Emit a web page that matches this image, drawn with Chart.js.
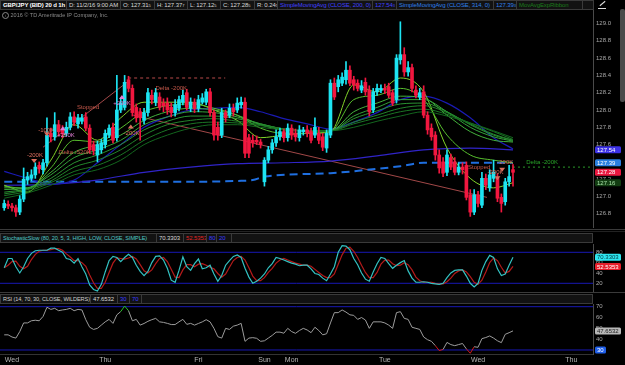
<!DOCTYPE html>
<html><head><meta charset="utf-8">
<script src="https://cdn.jsdelivr.net/npm/chart.js@4.4.1/dist/chart.umd.min.js"></script>
<style>
html,body{margin:0;padding:0;background:#000;}
body{width:625px;height:365px;position:relative;overflow:hidden;font-family:"Liberation Sans",Arial,sans-serif;}
.c{position:absolute;height:10px;line-height:8px;font-size:6px;letter-spacing:-0.1px;white-space:nowrap;overflow:hidden;border:1px solid #3a3a3a;background:#121212;box-sizing:border-box;padding-left:2px;color:#d8d8d8;}
.s{font-size:4px;}
canvas{position:absolute;left:0;}
.sep{position:absolute;left:0;width:625px;height:1px;background:#3a3a3a;}
</style></head><body>
<canvas id="pc" width="625" height="218" style="top:10px"></canvas>
<canvas id="sc" width="625" height="48" style="top:244px"></canvas>
<canvas id="rc" width="625" height="61" style="top:304px"></canvas>

<div class="c" style="left:0;top:0;width:67px;font-weight:bold;color:#fff">GBP/JPY (BID) 20 d 1h</div>
<div class="c" style="left:66px;top:0;width:55px">D: 11/2/16 9:00 AM</div>
<div class="c" style="left:120px;top:0;width:35px">O: 127.31<span class="s">5</span></div>
<div class="c" style="left:154px;top:0;width:34px">H: 127.37<span class="s">7</span></div>
<div class="c" style="left:187px;top:0;width:34px">L: 127.12<span class="s">5</span></div>
<div class="c" style="left:220px;top:0;width:35px">C: 127.28<span class="s">5</span></div>
<div class="c" style="left:254px;top:0;width:24px">R: 0.24<span class="s">5</span></div>
<div class="c" style="left:277px;top:0;width:96px;color:#4141ff">SimpleMovingAvg (CLOSE, 200, 0)</div>
<div class="c" style="left:372px;top:0;width:25px;color:#4141ff">127.54<span class="s">3</span></div>
<div class="c" style="left:396px;top:0;width:98px;color:#2f80ea">SimpleMovingAvg (CLOSE, 314, 0)</div>
<div class="c" style="left:493px;top:0;width:24px;color:#2f80ea">127.39<span class="s">3</span></div>
<div class="c" style="left:516px;top:0;width:67px;color:#1b7d1b">MovAvgExpRibbon</div>
<div class="c" style="left:582px;top:0;width:12px"></div>
<div style="position:absolute;left:598px;top:1px;width:8px;height:7px;border-bottom:1px solid #ddd;"></div>
<div style="position:absolute;left:599px;top:3px;width:7px;height:1px;background:#ddd;transform:rotate(-40deg)"></div>
<div style="position:absolute;left:620px;top:9px;width:5px;height:93px;background:#4a4a4a;border-radius:2px"></div>

<div style="position:absolute;left:2px;top:12px;font-size:5.5px;color:#8a8a8a;white-space:nowrap;line-height:7px">
<span style="display:inline-block;width:5px;height:5px;border:1px solid #8a8a8a;border-radius:50%;font-size:4px;line-height:5px;text-align:center;vertical-align:middle">i</span> 2016 © TD Ameritrade IP Company, Inc.</div>

<div class="sep" style="top:229px"></div>
<div class="sep" style="top:231px;background:#222"></div>
<div class="c" style="left:0;top:233px;width:157px;color:#4fc8c8;font-size:5.6px">StochasticSlow (80, 20, 5, 3, HIGH, LOW, CLOSE, SIMPLE)</div>
<div class="c" style="left:156px;top:233px;width:28px">70.3303</div>
<div class="c" style="left:183px;top:233px;width:24px;color:#e02525">52.5353</div>
<div class="c" style="left:206px;top:233px;width:11px;color:#3a3aff">80</div>
<div class="c" style="left:216px;top:233px;width:16px;color:#3a3aff">20</div>
<div class="c" style="left:231px;top:233px;width:362px"></div>

<div class="sep" style="top:292px"></div>
<div class="c" style="left:0;top:294px;width:91px;color:#cfcfcf;font-size:5.6px">RSI (14, 70, 30, CLOSE, WILDERS)</div>
<div class="c" style="left:90px;top:294px;width:28px">47.6532</div>
<div class="c" style="left:117px;top:294px;width:13px;color:#3a3aff">30</div>
<div class="c" style="left:129px;top:294px;width:13px;color:#3a3aff">70</div>
<div class="c" style="left:141px;top:294px;width:452px"></div>

<script>
const FONT = '"Liberation Sans", Arial, sans-serif';
const xMin = -1.09, xMax = 151.6;
const dayTicks = [2, 26, 50, 67, 74, 98, 122, 146];
const dayLabels = ['Wed','Thu','Fri','Sun','Mon','Tue','Wed','Thu'];
const priceTicks = [126.8,127,127.2,127.4,127.6,127.8,128,128.2,128.4,128.6,128.8,129];
const stochTicks = [20,40,60,80];
const rsiTicks = [30,40,50,60,70];

// hourly OHLC, GBP/JPY
const openP = [126.87,126.91,126.89,126.87,126.82,126.97,127.19,127.21,127.25,127.36,
 127.31,127.39,127.73,127.69,127.83,127.77,127.73,127.80,127.92,127.84,
 127.87,127.92,127.79,127.60,127.48,127.54,127.60,127.71,127.80,127.68,
 128.00,128.03,128.35,128.25,128.03,127.98,127.88,127.97,128.17,128.09,
 128.15,128.08,128.08,128.03,127.97,128.02,128.09,128.20,128.02,128.09,
 128.02,128.09,128.09,128.21,127.97,127.80,127.71,127.97,127.94,128.02,
 128.00,128.06,128.09,127.68,127.65,127.65,127.63,127.17,127.42,127.54,
 127.62,127.69,127.75,127.68,127.79,127.73,127.68,127.75,127.77,127.75,
 127.71,127.73,127.69,127.56,127.71,128.31,128.27,128.31,128.35,128.46,
 128.35,128.31,128.23,128.32,128.23,128.00,128.21,128.23,128.25,128.27,
 128.20,128.12,128.58,128.64,128.44,128.49,128.23,128.15,128.21,127.94,
 127.79,127.71,127.48,127.40,127.28,127.45,127.40,127.28,127.34,127.36,
 127.02,126.82,127.02,126.90,127.21,127.10,127.21,127.21,126.99,126.94,127.17,127.31];
const highP = [126.96,126.95,126.92,126.90,127.01,127.33,127.28,127.31,127.39,127.40,
 127.43,127.91,127.79,127.97,127.88,127.82,127.86,127.97,127.98,127.95,
 127.95,127.97,127.83,127.64,127.64,127.66,127.77,127.83,127.85,128.40,
 128.14,128.40,128.39,128.29,128.07,128.02,128.02,128.25,128.23,128.25,
 128.20,128.13,128.14,128.08,128.12,128.16,128.23,128.24,128.14,128.13,
 128.17,128.19,128.24,128.25,128.00,127.86,128.02,128.00,128.07,128.07,
 128.14,128.15,128.14,127.72,127.71,127.70,127.66,127.45,127.58,127.66,
 127.77,127.79,127.78,127.84,127.83,127.78,127.82,127.80,127.82,127.79,
 127.91,127.80,127.73,127.77,128.35,128.37,128.40,128.43,128.56,128.51,
 128.39,128.35,128.34,128.37,128.28,128.25,128.30,128.29,128.30,128.31,
 128.23,128.64,129.02,128.72,128.56,128.53,128.28,128.25,128.28,127.98,
 127.84,127.75,127.54,127.45,127.54,127.49,127.45,127.39,127.39,127.40,
 127.08,127.08,127.06,127.28,127.26,127.31,127.42,127.26,127.03,127.21,127.36,127.37];
const lowP = [126.84,126.86,126.83,126.77,126.79,126.94,127.14,127.18,127.21,127.27,
 127.26,127.35,127.63,127.65,127.70,127.68,127.70,127.77,127.82,127.79,
 127.84,127.76,127.50,127.48,127.40,127.50,127.56,127.68,127.62,127.64,
 127.97,128.00,128.21,127.93,127.86,127.65,127.84,127.93,128.07,128.05,
 128.00,127.98,127.95,127.92,127.93,127.99,128.06,128.00,127.98,127.97,
 127.98,128.07,128.06,127.93,127.65,127.65,127.68,127.86,127.91,127.93,
 127.97,128.02,127.45,127.45,127.57,127.60,127.56,127.12,127.39,127.50,
 127.58,127.65,127.63,127.64,127.66,127.64,127.64,127.71,127.69,127.62,
 127.68,127.61,127.53,127.51,127.68,128.12,128.21,128.28,128.30,128.28,
 128.23,128.22,128.20,128.17,127.93,127.97,128.17,128.20,128.19,128.14,
 128.05,128.08,128.53,128.39,128.39,128.21,128.14,128.12,127.91,127.72,
 127.65,127.42,127.27,127.23,127.24,127.31,127.25,127.25,127.26,126.96,
 126.77,126.79,126.88,126.87,127.08,127.06,127.17,126.94,126.82,126.90,127.12,127.12];
const closeP = [126.92,126.89,126.87,126.82,126.97,127.20,127.23,127.25,127.34,127.32,
 127.39,127.71,127.69,127.83,127.75,127.73,127.80,127.92,127.86,127.91,
 127.91,127.79,127.54,127.53,127.60,127.62,127.73,127.79,127.65,128.00,
 128.08,128.32,128.25,127.97,127.91,127.91,127.97,128.20,128.12,128.20,
 128.03,128.05,128.00,127.97,128.06,128.12,128.17,128.03,128.09,128.02,
 128.12,128.14,128.21,127.97,127.71,127.71,127.97,127.91,128.02,127.98,
 128.08,128.09,127.50,127.50,127.62,127.63,127.60,127.42,127.54,127.62,
 127.69,127.75,127.68,127.79,127.71,127.69,127.77,127.77,127.73,127.65,
 127.80,127.65,127.57,127.73,128.31,128.15,128.35,128.38,128.46,128.31,
 128.29,128.25,128.28,128.21,127.98,128.21,128.25,128.25,128.23,128.17,
 128.08,128.60,128.64,128.44,128.49,128.25,128.17,128.20,127.94,127.77,
 127.69,127.48,127.33,127.27,127.48,127.34,127.28,127.34,127.31,126.99,
 126.82,127.02,126.92,127.21,127.13,127.25,127.28,126.98,126.92,127.17,127.23,127.28];

// moving averages (sampled bars)
const maBars = [0,6,12,18,24,30,36,42,48,54,60,66,72,78,84,90,96,102,108,114,120,126,131];
const ema1 = [127.13,127.05,127.42,127.83,127.65,127.91,128.09,128.09,128.09,128.00,127.88,127.68,127.71,127.73,127.75,128.29,128.21,128.37,128.21,127.56,127.21,127.10,127.16];
const ema2 = [127.12,127.09,127.33,127.65,127.63,127.79,127.98,128.05,128.07,128.02,127.94,127.79,127.73,127.73,127.75,128.12,128.17,128.25,128.12,127.71,127.48,127.42,127.39];
const ema3 = [127.10,127.10,127.28,127.51,127.60,127.71,127.88,127.98,128.02,128.00,127.94,127.83,127.77,127.76,127.76,127.98,128.08,128.16,128.14,127.94,127.75,127.65,127.63];
const ema4 = [127.08,127.10,127.25,127.45,127.54,127.65,127.83,127.92,127.98,127.97,127.92,127.84,127.78,127.76,127.76,127.93,128.03,128.12,128.12,127.98,127.80,127.69,127.64];
const ema5 = [127.05,127.09,127.21,127.39,127.48,127.60,127.77,127.87,127.93,127.93,127.90,127.84,127.78,127.76,127.76,127.90,127.99,128.07,128.08,127.98,127.83,127.71,127.65];
const ema6 = [127.03,127.08,127.18,127.34,127.42,127.54,127.71,127.83,127.88,127.90,127.87,127.83,127.78,127.76,127.76,127.86,127.94,128.02,128.05,127.97,127.84,127.72,127.65];
const ema7 = [127.01,127.06,127.16,127.29,127.36,127.48,127.65,127.77,127.84,127.86,127.85,127.82,127.78,127.76,127.76,127.84,127.91,127.98,128.01,127.95,127.85,127.75,127.66];
const ema8 = [126.98,127.04,127.13,127.25,127.31,127.42,127.60,127.71,127.79,127.83,127.83,127.80,127.77,127.76,127.76,127.80,127.87,127.93,127.98,127.93,127.85,127.76,127.68];
const maBlue = [127.29,127.21,127.14,127.19,127.39,127.60,127.80,127.92,128.00,128.02,128.03,127.98,127.90,127.84,127.78,127.86,127.97,128.12,128.16,128.08,127.91,127.68,127.55];
const sma200Bars = [0,12,24,36,48,60,72,84,96,108,120,131];
const sma200 = [127.13,127.14,127.19,127.28,127.34,127.38,127.39,127.41,127.47,127.54,127.56,127.54];
const sma314Bars = [0,24,48,60,64,67,84,96,102,108,131];
const sma314 = [127.17,127.17,127.17,127.18,127.19,127.23,127.27,127.32,127.35,127.39,127.39];

// trade lines
const trend1Bars = [10, 31.6], trend1 = [127.57, 128.32];
const trend2Bars = [33.2, 124.3], trend2 = [127.94, 126.99];
const stopBars = [31.9, 56.9], stopLvl = [128.37, 128.37];
const deltaBars = [13.9, 23.9], deltaLvl = [127.50, 127.50];
const delta2Bars = [131, 151.6], delta2Lvl = [127.34, 127.34];

const noteText  = ['-200K','-100K','+250K','Delta -520K','Stopped','+200K','-200K','Delta -200K','Stopped','-200K','-200K','Delta -200K'];
const noteBar   = [7.9,10.8,15.9,18.2,21.6,30.3,32.8,43,122.3,129,126.5,138.5];
const notePrice = [127.48,127.77,127.71,127.51,128.03,128.08,127.73,128.25,127.34,127.39,127.28,127.39];
const noteKind  = ['s','s','b','r','r','b','s','r','r','s','s','g'];
const markBar   = [7.7,11,15.1,30.3,32.6,128.2,127];
const markPrice = [127.41,127.72,127.79,128.15,127.81,127.31,127.21];
const markUp    = [false,false,true,true,true,false,false];
const markKind  = ['s','s','b','b','s','s','s'];

// stochastic slow
const stochK = [50,68,68,52,40,52,68,78,83,84, 84,84,88,88,84,80,68,66,59,68,
 52,38,17,8,5,18,42,64,72,70, 62,70,76,70,55,43,35,43,60,72,
 73,65,49,26,22,45,71,52,45,58, 67,48,50,55,38,24,35,55,64,72,
 75,70,49,32,20,24,30,38,50,58, 70,68,65,62,59,57,54,55,55,48,
 39,37,30,25,38,52,80,93,92,85, 68,56,40,28,24,42,58,70,68,58,
 49,55,60,64,44,30,22,22,23,22, 20,19,18,20,31,40,45,46,46,34,
 20,13,20,45,62,74,70,48,35,38,55,70.33];
const stochD = [50,55,62,63,53,48,53,66,76,82, 84,84,85,87,87,84,77,71,64,64,
 60,53,36,21,10,10,22,41,59,69, 68,67,69,72,67,56,44,40,46,58,
 68,70,62,47,32,31,46,56,56,52, 57,58,55,51,48,39,32,38,51,64,
 70,72,65,50,34,25,25,31,41,49, 59,65,68,65,62,59,57,55,55,53,
 47,41,35,31,31,38,57,75,88,90, 82,70,55,41,31,31,41,57,65,65,
 58,54,55,60,56,46,32,25,22,22, 22,20,19,19,23,30,39,44,46,42,
 33,22,18,26,42,60,69,64,51,40,43,52.54];
// RSI 14
const rsi = [44,44,42,41,47,55,55,57,57.5,57, 61,69.5,67.5,68.5,66.3,67,67.5,68.5,66.3,67.5,
 67,58,51,49,50,53,56,58.3,54.6,62.5, 65.5,70.6,66.3,57,58.3,53,54.5,56.5,58,59.2,
 56,55.5,54.6,53.5,53.5,56,58.3,53.7,54.6,53, 54.5,56,58,56,50,42.3,41,50,49,52,
 53,54.6,38,41,41.4,40.8,38,38.5,41,43.5, 46.5,46.5,45.5,50,47,45.4,48,50,48.5,46,
 51,48,44,45,55,64.5,64.5,67,65,62.5, 62,58.3,60,57.7,50,56,56,56,55,53,
 50,64.5,65.4,59.2,58.3,51,50,49,42,39.5, 38,34,29.5,30.5,37,35,34,35,36,31,
 27,33,32.5,40.5,41.5,43,41,38.5,36.8,44.5,46,47.65];

const priceBadges = [127.54,127.39,127.28,127.16];
const priceBadgeText = ['127.54','127.39','127.28','127.16'];
const priceBadgeBg = ['#3d32e6','#2a7fe0','#ea173f','#123d12'];
const priceBadgeFg = ['#ffffff','#ffffff','#ffffff','#a6e0a6'];
const stochBadges = [70.3303,52.5353];
const stochBadgeText = ['70.3303','52.5353'];
const stochBadgeBg = ['#2ee6f0','#e81e2a'];
const stochBadgeFg = ['#003a40','#ffffff'];
const rsiBadges = [47.6532,30];
const rsiBadgeText = ['47.6532','30'];
const rsiBadgeBg = ['#b8b8b8','#1f5ee8'];
const rsiBadgeFg = ['#202020','#ffffff'];

const UP = '#1de4f2', DOWN = '#f2173f';
const KIND = {s:'#dc6e5e', b:'#e07fd6', r:'#c4584a', g:'#28a428'};
const bars = openP.map((_, i) => i);
const candleColor = bars.map(i => closeP[i] >= openP[i] ? UP : DOWN);

function pts(xs, ys){ return xs.map((x,k)=>({x:x, y:ys[k]})); }
function line(xs, ys, color, extra){
  return Object.assign({type:'line', data:pts(xs,ys), borderColor:color, borderWidth:1,
    pointRadius:0, fill:false, tension:0, order:5}, extra||{});
}
function smooth(xs, ys, color, w, extra){ return line(xs, ys, color, Object.assign({cubicInterpolationMode:'monotone', borderWidth:w||1}, extra||{})); }

function roundRect(ctx,x,y,w,h,r){ ctx.beginPath(); ctx.moveTo(x+r,y); ctx.lineTo(x+w-r,y); ctx.quadraticCurveTo(x+w,y,x+w,y+r);
  ctx.lineTo(x+w,y+h-r); ctx.quadraticCurveTo(x+w,y+h,x+w-r,y+h); ctx.lineTo(x+r,y+h); ctx.quadraticCurveTo(x,y+h,x,y+h-r);
  ctx.lineTo(x,y+r); ctx.quadraticCurveTo(x,y,x+r,y); ctx.closePath(); }

function badgePlugin(vals, texts, bgs, fgs){
  return { id:'badges', afterDraw(chart){
    const ctx = chart.ctx, ys = chart.scales.y, x0 = chart.chartArea.right + 2;
    ctx.save();
    vals.forEach((v,k)=>{
      const py = ys.getPixelForValue(v);
      ctx.fillStyle = bgs[k]; roundRect(ctx, x0, py-3.5, texts[k].length>3?26:11, 7, 1.5); ctx.fill();
      ctx.fillStyle = fgs[k]; ctx.font = '6px ' + FONT; ctx.textAlign = 'left'; ctx.textBaseline = 'middle';
      ctx.fillText(texts[k], x0+2, py+0.5);
    });
    ctx.restore();
  }};
}

const notesPlugin = { id:'notes', afterDatasetsDraw(chart){
  const ctx = chart.ctx, xs = chart.scales.x, ys = chart.scales.y;
  ctx.save();
  ctx.font = '6px ' + FONT; ctx.textAlign = 'center'; ctx.textBaseline = 'middle';
  noteText.forEach((t,k)=>{ ctx.fillStyle = KIND[noteKind[k]]; ctx.fillText(t, xs.getPixelForValue(noteBar[k]), ys.getPixelForValue(notePrice[k])); });
  markBar.forEach((b,k)=>{
    const px = xs.getPixelForValue(b), py = ys.getPixelForValue(markPrice[k]);
    ctx.fillStyle = KIND[markKind[k]]; ctx.beginPath();
    if (markUp[k]) { ctx.moveTo(px-3,py+2); ctx.lineTo(px+3,py+2); ctx.lineTo(px,py-2); }
    else { ctx.moveTo(px-3,py-2); ctx.lineTo(px+3,py-2); ctx.lineTo(px,py+2); }
    ctx.closePath(); ctx.fill();
  });
  ctx.restore();
}};

function yAxis(min, max, ticks){
  return { position:'right', min:min, max:max,
    grid:{display:false, drawTicks:false}, border:{display:true, color:'#4a4a4a'},
    ticks:{color:'#a8a8a8', font:{size:6, family:FONT}, padding:3, autoSkip:false},
    afterBuildTicks: s => { s.ticks = ticks.map(v=>({value:v})); },
    afterFit: s => { s.width = 32; s.paddingTop = 0; s.paddingBottom = 0; } };
}
function xAxis(show){
  return { type:'linear', min:xMin, max:xMax, offset:false, display:show,
    grid:{display:false, drawTicks:false, offset:false}, border:{display:true, color:'#333'},
    ticks:{color:'#b4b4b4', font:{size:7, family:FONT}, padding:2, maxRotation:0, autoSkip:false,
      callback:(v,i)=> dayLabels[i]},
    afterBuildTicks: s => { s.ticks = dayTicks.map(v=>({value:v})); },
    afterFit: s => { s.height = show ? 11 : 0; s.paddingLeft = 0; s.paddingRight = 0; } };
}
function baseOpts(yMin, yMax, yTicks, showX){
  return { responsive:false, animation:false, devicePixelRatio:1, events:[],
    layout:{padding:0, autoPadding:false}, plugins:{legend:{display:false}, tooltip:{enabled:false}},
    scales:{ x:xAxis(showX), y:yAxis(yMin, yMax, yTicks) } };
}

// ---- price panel
new Chart(document.getElementById('pc'), {
  type:'bar',
  data:{ datasets:[
    {type:'bar', data:bars.map(i=>({x:i, y:[lowP[i], highP[i]]})), backgroundColor:candleColor, barThickness:1, grouped:false, order:1},
    {type:'bar', data:bars.map(i=>({x:i, y:[openP[i], closeP[i]]})), backgroundColor:candleColor, barThickness:3, grouped:false, minBarLength:1, order:0},
    smooth(maBars, ema8, '#13661e'), smooth(maBars, ema7, '#1a7524'), smooth(maBars, ema6, '#22842b'),
    smooth(maBars, ema5, '#2a9432'), smooth(maBars, ema4, '#34a33a'), smooth(maBars, ema3, '#43b23c'),
    smooth(maBars, ema2, '#58bf2e'), smooth(maBars, ema1, '#82d42a'),
    smooth(maBars, maBlue, '#1a1ab4', 1.2),
    smooth(sma200Bars, sma200, '#3024c8', 1.2),
    smooth(sma314Bars, sma314, '#1f6fe0', 2, {borderDash:[8,5]}),
    line(trend1Bars, trend1, '#a24848'),
    line(trend2Bars, trend2, '#a24848'),
    line(stopBars, stopLvl, '#b84a4a', {borderDash:[3,3]}),
    line(deltaBars, deltaLvl, '#2a8a2a', {borderDash:[2,2]}),
    line(delta2Bars, delta2Lvl, '#2a9a2a', {borderDash:[2,3]})
  ]},
  options: baseOpts(126.636, 129.156, priceTicks, false),
  plugins:[notesPlugin, badgePlugin(priceBadges, priceBadgeText, priceBadgeBg, priceBadgeFg)]
});

// ---- stochastic panel
new Chart(document.getElementById('sc'), {
  type:'line',
  data:{ datasets:[
    line([xMin,xMax],[80,80],'#1818b4'), line([xMin,xMax],[20,20],'#1818b4'),
    line(bars, stochD, '#b51a1a', {borderWidth:1.2, order:1}),
    line(bars, stochK, '#33c2c2', {borderWidth:1.2, order:0})
  ]},
  options: baseOpts(3.16, 96.06, stochTicks, false),
  plugins:[badgePlugin(stochBadges, stochBadgeText, stochBadgeBg, stochBadgeFg)]
});

// ---- RSI panel
new Chart(document.getElementById('rc'), {
  type:'line',
  data:{ datasets:[
    line([xMin,xMax],[70,70],'#1818b4'), line([xMin,xMax],[30,30],'#1818b4'),
    line(bars, rsi, '#9c9c9c', {order:0, segment:{borderColor: c => {
      const a = c.p0.parsed.y, b = c.p1.parsed.y;
      if (a > 70 || b > 70) return '#25c025';
      if (a < 30 || b < 30) return '#d41a1a';
      return '#9c9c9c'; }}})
  ]},
  options: baseOpts(26.3, 72.49, rsiTicks, true),
  plugins:[badgePlugin(rsiBadges, rsiBadgeText, rsiBadgeBg, rsiBadgeFg)]
});
</script>
</body></html>
